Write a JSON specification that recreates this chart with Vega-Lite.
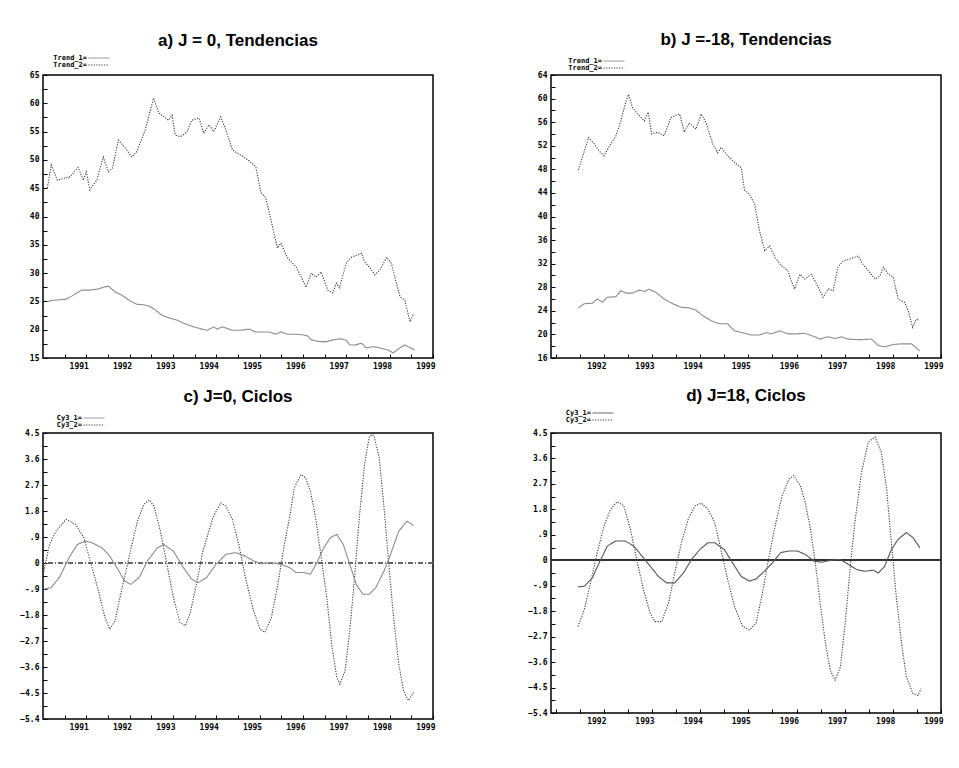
{
"$schema": "https://vega.github.io/schema/vega-lite/v6.json",
"background": "white",
"padding": {"left": 18, "top": 30, "right": 5, "bottom": 5},
"config": {
  "view": {"stroke": "#000", "strokeWidth": 1.5},
  "axis": {"domain": false, "grid": false, "title": null, "tickColor": "#000", "tickWidth": 1, "tickSize": -4, "labelFont": "DejaVu Sans Mono", "labelFontWeight": "bold", "labelFontSize": 8, "labelColor": "#000", "labelPadding": 8, "labelFlush": false, "labelOverlap": false, "labelBound": false},
  "axisX": {"labelAlign": "right", "labelOffset": 2},
  "title": {"font": "Liberation Sans", "fontSize": 17, "fontWeight": "bold", "color": "#000", "anchor": "middle"},
  "legend": {"labelFont": "DejaVu Sans Mono", "labelFontWeight": "bold", "labelFontSize": 7, "labelColor": "#000", "symbolType": "M-1,0H5", "symbolSize": 49, "symbolStrokeWidth": 1, "labelAlign": "right", "labelOffset": -9, "rowPadding": -1, "padding": 0}
},
"resolve": {"scale": {"color": "independent", "strokeDash": "independent"}, "legend": {"color": "independent", "strokeDash": "independent"}},
"datasets": {
"a": [
{"s":"Trend_2","t":1990.1,"v":45.0},{"s":"Trend_2","t":1990.19,"v":49.1},{"s":"Trend_2","t":1990.33,"v":46.4},{"s":"Trend_2","t":1990.5,"v":46.8},{"s":"Trend_2","t":1990.62,"v":47.0},{"s":"Trend_2","t":1990.81,"v":48.7},{"s":"Trend_2","t":1990.93,"v":46.4},{"s":"Trend_2","t":1991.0,"v":47.9},{"s":"Trend_2","t":1991.08,"v":44.7},{"s":"Trend_2","t":1991.24,"v":46.4},{"s":"Trend_2","t":1991.39,"v":50.5},{"s":"Trend_2","t":1991.51,"v":47.9},{"s":"Trend_2","t":1991.6,"v":48.5},{"s":"Trend_2","t":1991.74,"v":53.5},{"s":"Trend_2","t":1991.9,"v":52.1},{"s":"Trend_2","t":1992.05,"v":50.5},{"s":"Trend_2","t":1992.16,"v":51.4},{"s":"Trend_2","t":1992.36,"v":55.3},{"s":"Trend_2","t":1992.55,"v":60.9},{"s":"Trend_2","t":1992.67,"v":58.3},{"s":"Trend_2","t":1992.9,"v":57.0},{"s":"Trend_2","t":1992.98,"v":57.9},{"s":"Trend_2","t":1993.05,"v":54.4},{"s":"Trend_2","t":1993.17,"v":54.1},{"s":"Trend_2","t":1993.32,"v":54.9},{"s":"Trend_2","t":1993.43,"v":57.0},{"s":"Trend_2","t":1993.6,"v":57.4},{"s":"Trend_2","t":1993.71,"v":54.7},{"s":"Trend_2","t":1993.83,"v":56.2},{"s":"Trend_2","t":1993.94,"v":55.0},{"s":"Trend_2","t":1994.1,"v":57.6},{"s":"Trend_2","t":1994.22,"v":55.3},{"s":"Trend_2","t":1994.37,"v":51.8},{"s":"Trend_2","t":1994.48,"v":51.2},{"s":"Trend_2","t":1994.64,"v":50.5},{"s":"Trend_2","t":1994.83,"v":49.4},{"s":"Trend_2","t":1994.91,"v":48.8},{"s":"Trend_2","t":1995.03,"v":44.2},{"s":"Trend_2","t":1995.14,"v":43.3},{"s":"Trend_2","t":1995.26,"v":39.4},{"s":"Trend_2","t":1995.41,"v":34.4},{"s":"Trend_2","t":1995.49,"v":35.3},{"s":"Trend_2","t":1995.64,"v":32.7},{"s":"Trend_2","t":1995.84,"v":31.1},{"s":"Trend_2","t":1995.96,"v":29.3},{"s":"Trend_2","t":1996.07,"v":27.5},{"s":"Trend_2","t":1996.19,"v":30.0},{"s":"Trend_2","t":1996.3,"v":29.3},{"s":"Trend_2","t":1996.42,"v":30.2},{"s":"Trend_2","t":1996.57,"v":27.0},{"s":"Trend_2","t":1996.69,"v":26.5},{"s":"Trend_2","t":1996.77,"v":28.2},{"s":"Trend_2","t":1996.84,"v":27.4},{"s":"Trend_2","t":1997.0,"v":31.8},{"s":"Trend_2","t":1997.12,"v":32.8},{"s":"Trend_2","t":1997.35,"v":33.5},{"s":"Trend_2","t":1997.42,"v":32.0},{"s":"Trend_2","t":1997.54,"v":31.0},{"s":"Trend_2","t":1997.66,"v":29.7},{"s":"Trend_2","t":1997.77,"v":30.5},{"s":"Trend_2","t":1997.93,"v":32.8},{"s":"Trend_2","t":1998.04,"v":31.7},{"s":"Trend_2","t":1998.12,"v":29.3},{"s":"Trend_2","t":1998.24,"v":25.8},{"s":"Trend_2","t":1998.35,"v":25.2},{"s":"Trend_2","t":1998.47,"v":21.4},{"s":"Trend_2","t":1998.54,"v":22.6},{"s":"Trend_2","t":1998.58,"v":22.6},
{"s":"Trend_1","t":1990.1,"v":24.9},{"s":"Trend_1","t":1990.16,"v":25.1},{"s":"Trend_1","t":1990.23,"v":25.2},{"s":"Trend_1","t":1990.54,"v":25.4},{"s":"Trend_1","t":1990.7,"v":26.1},{"s":"Trend_1","t":1990.89,"v":27.0},{"s":"Trend_1","t":1991.08,"v":27.0},{"s":"Trend_1","t":1991.28,"v":27.2},{"s":"Trend_1","t":1991.39,"v":27.5},{"s":"Trend_1","t":1991.51,"v":27.7},{"s":"Trend_1","t":1991.66,"v":26.7},{"s":"Trend_1","t":1991.82,"v":26.1},{"s":"Trend_1","t":1992.01,"v":25.1},{"s":"Trend_1","t":1992.16,"v":24.5},{"s":"Trend_1","t":1992.32,"v":24.4},{"s":"Trend_1","t":1992.47,"v":24.1},{"s":"Trend_1","t":1992.59,"v":23.5},{"s":"Trend_1","t":1992.74,"v":22.6},{"s":"Trend_1","t":1992.9,"v":22.1},{"s":"Trend_1","t":1993.09,"v":21.7},{"s":"Trend_1","t":1993.29,"v":21.0},{"s":"Trend_1","t":1993.48,"v":20.5},{"s":"Trend_1","t":1993.67,"v":20.1},{"s":"Trend_1","t":1993.79,"v":19.9},{"s":"Trend_1","t":1993.94,"v":20.5},{"s":"Trend_1","t":1994.02,"v":20.1},{"s":"Trend_1","t":1994.14,"v":20.5},{"s":"Trend_1","t":1994.37,"v":19.9},{"s":"Trend_1","t":1994.56,"v":19.9},{"s":"Trend_1","t":1994.76,"v":20.1},{"s":"Trend_1","t":1994.91,"v":19.6},{"s":"Trend_1","t":1995.04,"v":19.6},{"s":"Trend_1","t":1995.22,"v":19.6},{"s":"Trend_1","t":1995.37,"v":19.2},{"s":"Trend_1","t":1995.49,"v":19.6},{"s":"Trend_1","t":1995.64,"v":19.2},{"s":"Trend_1","t":1995.84,"v":19.2},{"s":"Trend_1","t":1995.99,"v":19.1},{"s":"Trend_1","t":1996.11,"v":18.9},{"s":"Trend_1","t":1996.19,"v":18.2},{"s":"Trend_1","t":1996.38,"v":17.9},{"s":"Trend_1","t":1996.54,"v":17.9},{"s":"Trend_1","t":1996.69,"v":18.2},{"s":"Trend_1","t":1996.88,"v":18.4},{"s":"Trend_1","t":1997.0,"v":18.1},{"s":"Trend_1","t":1997.08,"v":17.3},{"s":"Trend_1","t":1997.2,"v":17.3},{"s":"Trend_1","t":1997.35,"v":17.6},{"s":"Trend_1","t":1997.46,"v":16.8},{"s":"Trend_1","t":1997.62,"v":17.0},{"s":"Trend_1","t":1997.77,"v":16.8},{"s":"Trend_1","t":1997.97,"v":16.4},{"s":"Trend_1","t":1998.08,"v":15.9},{"s":"Trend_1","t":1998.24,"v":16.8},{"s":"Trend_1","t":1998.35,"v":17.3},{"s":"Trend_1","t":1998.47,"v":16.8},{"s":"Trend_1","t":1998.58,"v":16.4}
],
"b": [
{"s":"Trend_2","t":1991.47,"v":47.9},{"s":"Trend_2","t":1991.55,"v":50.0},{"s":"Trend_2","t":1991.68,"v":53.4},{"s":"Trend_2","t":1991.8,"v":52.3},{"s":"Trend_2","t":1991.9,"v":51.1},{"s":"Trend_2","t":1992.0,"v":50.3},{"s":"Trend_2","t":1992.14,"v":52.3},{"s":"Trend_2","t":1992.25,"v":53.7},{"s":"Trend_2","t":1992.35,"v":56.2},{"s":"Trend_2","t":1992.46,"v":59.6},{"s":"Trend_2","t":1992.51,"v":60.7},{"s":"Trend_2","t":1992.59,"v":58.5},{"s":"Trend_2","t":1992.7,"v":57.4},{"s":"Trend_2","t":1992.84,"v":56.2},{"s":"Trend_2","t":1992.92,"v":57.7},{"s":"Trend_2","t":1992.99,"v":54.0},{"s":"Trend_2","t":1993.11,"v":54.3},{"s":"Trend_2","t":1993.25,"v":53.7},{"s":"Trend_2","t":1993.39,"v":56.8},{"s":"Trend_2","t":1993.57,"v":57.4},{"s":"Trend_2","t":1993.67,"v":54.3},{"s":"Trend_2","t":1993.77,"v":55.9},{"s":"Trend_2","t":1993.91,"v":54.8},{"s":"Trend_2","t":1994.02,"v":57.4},{"s":"Trend_2","t":1994.12,"v":55.9},{"s":"Trend_2","t":1994.26,"v":52.3},{"s":"Trend_2","t":1994.36,"v":50.8},{"s":"Trend_2","t":1994.43,"v":51.7},{"s":"Trend_2","t":1994.57,"v":50.3},{"s":"Trend_2","t":1994.75,"v":48.9},{"s":"Trend_2","t":1994.85,"v":48.3},{"s":"Trend_2","t":1994.92,"v":44.4},{"s":"Trend_2","t":1995.02,"v":43.8},{"s":"Trend_2","t":1995.13,"v":42.1},{"s":"Trend_2","t":1995.23,"v":37.6},{"s":"Trend_2","t":1995.34,"v":34.2},{"s":"Trend_2","t":1995.44,"v":35.0},{"s":"Trend_2","t":1995.55,"v":33.1},{"s":"Trend_2","t":1995.68,"v":31.7},{"s":"Trend_2","t":1995.82,"v":30.8},{"s":"Trend_2","t":1995.89,"v":29.1},{"s":"Trend_2","t":1995.96,"v":27.7},{"s":"Trend_2","t":1996.07,"v":30.2},{"s":"Trend_2","t":1996.17,"v":29.4},{"s":"Trend_2","t":1996.31,"v":30.2},{"s":"Trend_2","t":1996.45,"v":28.0},{"s":"Trend_2","t":1996.55,"v":26.3},{"s":"Trend_2","t":1996.66,"v":27.7},{"s":"Trend_2","t":1996.76,"v":27.4},{"s":"Trend_2","t":1996.86,"v":31.4},{"s":"Trend_2","t":1996.97,"v":32.5},{"s":"Trend_2","t":1997.11,"v":32.8},{"s":"Trend_2","t":1997.28,"v":33.3},{"s":"Trend_2","t":1997.38,"v":31.9},{"s":"Trend_2","t":1997.49,"v":30.8},{"s":"Trend_2","t":1997.63,"v":29.4},{"s":"Trend_2","t":1997.73,"v":29.9},{"s":"Trend_2","t":1997.8,"v":31.4},{"s":"Trend_2","t":1997.91,"v":30.2},{"s":"Trend_2","t":1998.01,"v":29.7},{"s":"Trend_2","t":1998.11,"v":26.0},{"s":"Trend_2","t":1998.25,"v":25.4},{"s":"Trend_2","t":1998.32,"v":24.0},{"s":"Trend_2","t":1998.41,"v":21.2},{"s":"Trend_2","t":1998.49,"v":22.6},{"s":"Trend_2","t":1998.55,"v":22.4},
{"s":"Trend_1","t":1991.47,"v":24.5},{"s":"Trend_1","t":1991.59,"v":25.2},{"s":"Trend_1","t":1991.76,"v":25.3},{"s":"Trend_1","t":1991.86,"v":26.0},{"s":"Trend_1","t":1991.97,"v":25.5},{"s":"Trend_1","t":1992.07,"v":26.3},{"s":"Trend_1","t":1992.25,"v":26.4},{"s":"Trend_1","t":1992.35,"v":27.4},{"s":"Trend_1","t":1992.46,"v":27.0},{"s":"Trend_1","t":1992.59,"v":27.0},{"s":"Trend_1","t":1992.73,"v":27.5},{"s":"Trend_1","t":1992.85,"v":27.3},{"s":"Trend_1","t":1992.94,"v":27.7},{"s":"Trend_1","t":1993.08,"v":27.1},{"s":"Trend_1","t":1993.25,"v":26.0},{"s":"Trend_1","t":1993.43,"v":25.2},{"s":"Trend_1","t":1993.6,"v":24.6},{"s":"Trend_1","t":1993.77,"v":24.5},{"s":"Trend_1","t":1993.91,"v":24.1},{"s":"Trend_1","t":1994.05,"v":23.2},{"s":"Trend_1","t":1994.23,"v":22.3},{"s":"Trend_1","t":1994.4,"v":21.8},{"s":"Trend_1","t":1994.57,"v":21.8},{"s":"Trend_1","t":1994.71,"v":20.6},{"s":"Trend_1","t":1994.88,"v":20.3},{"s":"Trend_1","t":1995.06,"v":19.9},{"s":"Trend_1","t":1995.23,"v":19.9},{"s":"Trend_1","t":1995.37,"v":20.3},{"s":"Trend_1","t":1995.48,"v":20.1},{"s":"Trend_1","t":1995.65,"v":20.6},{"s":"Trend_1","t":1995.82,"v":20.1},{"s":"Trend_1","t":1996.0,"v":20.1},{"s":"Trend_1","t":1996.17,"v":20.2},{"s":"Trend_1","t":1996.31,"v":19.8},{"s":"Trend_1","t":1996.41,"v":19.5},{"s":"Trend_1","t":1996.48,"v":19.2},{"s":"Trend_1","t":1996.66,"v":19.6},{"s":"Trend_1","t":1996.8,"v":19.3},{"s":"Trend_1","t":1996.93,"v":19.6},{"s":"Trend_1","t":1997.07,"v":19.2},{"s":"Trend_1","t":1997.28,"v":19.1},{"s":"Trend_1","t":1997.56,"v":19.2},{"s":"Trend_1","t":1997.7,"v":18.1},{"s":"Trend_1","t":1997.84,"v":17.9},{"s":"Trend_1","t":1998.01,"v":18.3},{"s":"Trend_1","t":1998.18,"v":18.4},{"s":"Trend_1","t":1998.39,"v":18.4},{"s":"Trend_1","t":1998.56,"v":17.2}
],
"c": [
{"s":"Cy3_2","t":1990.02,"v":-0.28},{"s":"Cy3_2","t":1990.15,"v":0.64},{"s":"Cy3_2","t":1990.3,"v":1.1},{"s":"Cy3_2","t":1990.53,"v":1.51},{"s":"Cy3_2","t":1990.75,"v":1.34},{"s":"Cy3_2","t":1990.94,"v":0.88},{"s":"Cy3_2","t":1991.09,"v":0.07},{"s":"Cy3_2","t":1991.28,"v":-0.97},{"s":"Cy3_2","t":1991.43,"v":-1.89},{"s":"Cy3_2","t":1991.54,"v":-2.29},{"s":"Cy3_2","t":1991.66,"v":-2.0},{"s":"Cy3_2","t":1991.81,"v":-0.97},{"s":"Cy3_2","t":1992.0,"v":0.3},{"s":"Cy3_2","t":1992.18,"v":1.45},{"s":"Cy3_2","t":1992.33,"v":2.03},{"s":"Cy3_2","t":1992.45,"v":2.18},{"s":"Cy3_2","t":1992.56,"v":1.97},{"s":"Cy3_2","t":1992.71,"v":1.1},{"s":"Cy3_2","t":1992.86,"v":-0.05},{"s":"Cy3_2","t":1993.01,"v":-1.2},{"s":"Cy3_2","t":1993.16,"v":-2.06},{"s":"Cy3_2","t":1993.28,"v":-2.17},{"s":"Cy3_2","t":1993.39,"v":-1.77},{"s":"Cy3_2","t":1993.54,"v":-0.74},{"s":"Cy3_2","t":1993.69,"v":0.41},{"s":"Cy3_2","t":1993.92,"v":1.57},{"s":"Cy3_2","t":1994.1,"v":2.08},{"s":"Cy3_2","t":1994.22,"v":1.97},{"s":"Cy3_2","t":1994.37,"v":1.51},{"s":"Cy3_2","t":1994.52,"v":0.64},{"s":"Cy3_2","t":1994.67,"v":-0.51},{"s":"Cy3_2","t":1994.86,"v":-1.66},{"s":"Cy3_2","t":1995.01,"v":-2.29},{"s":"Cy3_2","t":1995.12,"v":-2.4},{"s":"Cy3_2","t":1995.27,"v":-1.89},{"s":"Cy3_2","t":1995.42,"v":-0.74},{"s":"Cy3_2","t":1995.57,"v":0.64},{"s":"Cy3_2","t":1995.69,"v":1.57},{"s":"Cy3_2","t":1995.8,"v":2.6},{"s":"Cy3_2","t":1995.95,"v":3.06},{"s":"Cy3_2","t":1996.06,"v":2.95},{"s":"Cy3_2","t":1996.17,"v":2.49},{"s":"Cy3_2","t":1996.29,"v":1.57},{"s":"Cy3_2","t":1996.4,"v":0.41},{"s":"Cy3_2","t":1996.55,"v":-1.2},{"s":"Cy3_2","t":1996.66,"v":-2.81},{"s":"Cy3_2","t":1996.78,"v":-3.96},{"s":"Cy3_2","t":1996.85,"v":-4.19},{"s":"Cy3_2","t":1996.97,"v":-3.73},{"s":"Cy3_2","t":1997.08,"v":-2.35},{"s":"Cy3_2","t":1997.19,"v":-0.51},{"s":"Cy3_2","t":1997.3,"v":1.57},{"s":"Cy3_2","t":1997.42,"v":3.41},{"s":"Cy3_2","t":1997.53,"v":4.38},{"s":"Cy3_2","t":1997.6,"v":4.45},{"s":"Cy3_2","t":1997.64,"v":4.38},{"s":"Cy3_2","t":1997.76,"v":3.64},{"s":"Cy3_2","t":1997.87,"v":1.91},{"s":"Cy3_2","t":1997.98,"v":-0.05},{"s":"Cy3_2","t":1998.09,"v":-1.89},{"s":"Cy3_2","t":1998.21,"v":-3.5},{"s":"Cy3_2","t":1998.32,"v":-4.42},{"s":"Cy3_2","t":1998.43,"v":-4.76},{"s":"Cy3_2","t":1998.55,"v":-4.48},
{"s":"Cy3_1","t":1990.02,"v":-0.91},{"s":"Cy3_1","t":1990.19,"v":-0.85},{"s":"Cy3_1","t":1990.38,"v":-0.5},{"s":"Cy3_1","t":1990.6,"v":0.18},{"s":"Cy3_1","t":1990.79,"v":0.64},{"s":"Cy3_1","t":1990.98,"v":0.76},{"s":"Cy3_1","t":1991.13,"v":0.7},{"s":"Cy3_1","t":1991.36,"v":0.53},{"s":"Cy3_1","t":1991.54,"v":0.24},{"s":"Cy3_1","t":1991.73,"v":-0.22},{"s":"Cy3_1","t":1991.88,"v":-0.62},{"s":"Cy3_1","t":1992.03,"v":-0.74},{"s":"Cy3_1","t":1992.22,"v":-0.5},{"s":"Cy3_1","t":1992.41,"v":0.07},{"s":"Cy3_1","t":1992.64,"v":0.53},{"s":"Cy3_1","t":1992.79,"v":0.64},{"s":"Cy3_1","t":1993.01,"v":0.41},{"s":"Cy3_1","t":1993.24,"v":-0.16},{"s":"Cy3_1","t":1993.43,"v":-0.56},{"s":"Cy3_1","t":1993.58,"v":-0.68},{"s":"Cy3_1","t":1993.77,"v":-0.51},{"s":"Cy3_1","t":1993.99,"v":-0.05},{"s":"Cy3_1","t":1994.22,"v":0.3},{"s":"Cy3_1","t":1994.44,"v":0.36},{"s":"Cy3_1","t":1994.67,"v":0.24},{"s":"Cy3_1","t":1994.86,"v":0.07},{"s":"Cy3_1","t":1995.05,"v":-0.02},{"s":"Cy3_1","t":1995.27,"v":0.01},{"s":"Cy3_1","t":1995.5,"v":-0.05},{"s":"Cy3_1","t":1995.69,"v":-0.16},{"s":"Cy3_1","t":1995.84,"v":-0.33},{"s":"Cy3_1","t":1996.02,"v":-0.33},{"s":"Cy3_1","t":1996.17,"v":-0.39},{"s":"Cy3_1","t":1996.32,"v":0.01},{"s":"Cy3_1","t":1996.48,"v":0.53},{"s":"Cy3_1","t":1996.63,"v":0.88},{"s":"Cy3_1","t":1996.78,"v":0.99},{"s":"Cy3_1","t":1996.93,"v":0.64},{"s":"Cy3_1","t":1997.08,"v":-0.05},{"s":"Cy3_1","t":1997.23,"v":-0.74},{"s":"Cy3_1","t":1997.38,"v":-1.08},{"s":"Cy3_1","t":1997.53,"v":-1.08},{"s":"Cy3_1","t":1997.68,"v":-0.85},{"s":"Cy3_1","t":1997.87,"v":-0.28},{"s":"Cy3_1","t":1998.02,"v":0.3},{"s":"Cy3_1","t":1998.21,"v":1.1},{"s":"Cy3_1","t":1998.4,"v":1.45},{"s":"Cy3_1","t":1998.51,"v":1.34},{"s":"Cy3_1","t":1998.55,"v":1.28}
],
"d": [
{"s":"Cy3_2","t":1991.46,"v":-2.34},{"s":"Cy3_2","t":1991.59,"v":-1.75},{"s":"Cy3_2","t":1991.72,"v":-0.8},{"s":"Cy3_2","t":1991.86,"v":0.27},{"s":"Cy3_2","t":1992.0,"v":1.21},{"s":"Cy3_2","t":1992.14,"v":1.81},{"s":"Cy3_2","t":1992.27,"v":2.07},{"s":"Cy3_2","t":1992.41,"v":1.93},{"s":"Cy3_2","t":1992.55,"v":1.1},{"s":"Cy3_2","t":1992.68,"v":0.03},{"s":"Cy3_2","t":1992.82,"v":-1.04},{"s":"Cy3_2","t":1992.96,"v":-1.87},{"s":"Cy3_2","t":1993.06,"v":-2.17},{"s":"Cy3_2","t":1993.2,"v":-2.17},{"s":"Cy3_2","t":1993.34,"v":-1.51},{"s":"Cy3_2","t":1993.47,"v":-0.45},{"s":"Cy3_2","t":1993.61,"v":0.62},{"s":"Cy3_2","t":1993.75,"v":1.45},{"s":"Cy3_2","t":1993.89,"v":1.93},{"s":"Cy3_2","t":1994.02,"v":2.02},{"s":"Cy3_2","t":1994.16,"v":1.81},{"s":"Cy3_2","t":1994.3,"v":1.33},{"s":"Cy3_2","t":1994.43,"v":0.38},{"s":"Cy3_2","t":1994.57,"v":-0.68},{"s":"Cy3_2","t":1994.71,"v":-1.63},{"s":"Cy3_2","t":1994.88,"v":-2.34},{"s":"Cy3_2","t":1995.02,"v":-2.46},{"s":"Cy3_2","t":1995.16,"v":-2.23},{"s":"Cy3_2","t":1995.29,"v":-1.16},{"s":"Cy3_2","t":1995.43,"v":0.15},{"s":"Cy3_2","t":1995.57,"v":1.33},{"s":"Cy3_2","t":1995.7,"v":2.28},{"s":"Cy3_2","t":1995.84,"v":2.87},{"s":"Cy3_2","t":1995.94,"v":2.99},{"s":"Cy3_2","t":1996.08,"v":2.64},{"s":"Cy3_2","t":1996.18,"v":2.04},{"s":"Cy3_2","t":1996.29,"v":1.1},{"s":"Cy3_2","t":1996.39,"v":-0.09},{"s":"Cy3_2","t":1996.49,"v":-1.51},{"s":"Cy3_2","t":1996.6,"v":-2.94},{"s":"Cy3_2","t":1996.7,"v":-3.89},{"s":"Cy3_2","t":1996.8,"v":-4.24},{"s":"Cy3_2","t":1996.91,"v":-3.77},{"s":"Cy3_2","t":1997.01,"v":-2.23},{"s":"Cy3_2","t":1997.11,"v":-0.33},{"s":"Cy3_2","t":1997.21,"v":1.33},{"s":"Cy3_2","t":1997.35,"v":3.11},{"s":"Cy3_2","t":1997.49,"v":4.18},{"s":"Cy3_2","t":1997.63,"v":4.36},{"s":"Cy3_2","t":1997.76,"v":3.82},{"s":"Cy3_2","t":1997.87,"v":2.52},{"s":"Cy3_2","t":1997.97,"v":0.62},{"s":"Cy3_2","t":1998.07,"v":-1.28},{"s":"Cy3_2","t":1998.18,"v":-2.94},{"s":"Cy3_2","t":1998.28,"v":-4.12},{"s":"Cy3_2","t":1998.42,"v":-4.72},{"s":"Cy3_2","t":1998.52,"v":-4.78},{"s":"Cy3_2","t":1998.59,"v":-4.54},
{"s":"Cy3_1","t":1991.46,"v":-0.94},{"s":"Cy3_1","t":1991.59,"v":-0.92},{"s":"Cy3_1","t":1991.76,"v":-0.62},{"s":"Cy3_1","t":1991.9,"v":-0.09},{"s":"Cy3_1","t":1992.07,"v":0.5},{"s":"Cy3_1","t":1992.24,"v":0.68},{"s":"Cy3_1","t":1992.44,"v":0.68},{"s":"Cy3_1","t":1992.62,"v":0.5},{"s":"Cy3_1","t":1992.79,"v":0.15},{"s":"Cy3_1","t":1992.96,"v":-0.21},{"s":"Cy3_1","t":1993.13,"v":-0.57},{"s":"Cy3_1","t":1993.3,"v":-0.8},{"s":"Cy3_1","t":1993.47,"v":-0.8},{"s":"Cy3_1","t":1993.65,"v":-0.45},{"s":"Cy3_1","t":1993.82,"v":0.03},{"s":"Cy3_1","t":1993.99,"v":0.38},{"s":"Cy3_1","t":1994.16,"v":0.62},{"s":"Cy3_1","t":1994.3,"v":0.62},{"s":"Cy3_1","t":1994.5,"v":0.38},{"s":"Cy3_1","t":1994.67,"v":-0.09},{"s":"Cy3_1","t":1994.85,"v":-0.57},{"s":"Cy3_1","t":1995.02,"v":-0.74},{"s":"Cy3_1","t":1995.16,"v":-0.66},{"s":"Cy3_1","t":1995.33,"v":-0.39},{"s":"Cy3_1","t":1995.5,"v":-0.09},{"s":"Cy3_1","t":1995.67,"v":0.27},{"s":"Cy3_1","t":1995.84,"v":0.33},{"s":"Cy3_1","t":1996.01,"v":0.33},{"s":"Cy3_1","t":1996.18,"v":0.21},{"s":"Cy3_1","t":1996.36,"v":-0.03},{"s":"Cy3_1","t":1996.53,"v":-0.07},{"s":"Cy3_1","t":1996.7,"v":0.0},{"s":"Cy3_1","t":1996.91,"v":0.03},{"s":"Cy3_1","t":1997.08,"v":-0.15},{"s":"Cy3_1","t":1997.25,"v":-0.33},{"s":"Cy3_1","t":1997.42,"v":-0.39},{"s":"Cy3_1","t":1997.59,"v":-0.35},{"s":"Cy3_1","t":1997.7,"v":-0.45},{"s":"Cy3_1","t":1997.83,"v":-0.21},{"s":"Cy3_1","t":1997.97,"v":0.38},{"s":"Cy3_1","t":1998.11,"v":0.74},{"s":"Cy3_1","t":1998.28,"v":0.98},{"s":"Cy3_1","t":1998.42,"v":0.8},{"s":"Cy3_1","t":1998.56,"v":0.44}
]
},
"columns": 2,
"spacing": {"row": 75, "column": 118},
"bounds": "flush",
"concat": [
{
 "title": {"text": "a) J = 0, Tendencias", "offset": 4},
 "width": 390, "height": 283,
 "data": {"name": "a"},
 "mark": {"type": "line", "strokeWidth": 1.1},
 "encoding": {
  "x": {"field": "t", "type": "quantitative", "scale": {"domain": [1990, 1999], "nice": false, "zero": false},
        "axis": {"labelOverlap": false, "values": [1990.5,1991,1991.5,1992,1992.5,1993,1993.5,1994,1994.5,1995,1995.5,1996,1996.5,1997,1997.5,1998,1998.5,1999], "labelExpr": "datum.value % 1 == 0 ? format(datum.value, 'd') : ''"}},
  "y": {"field": "v", "type": "quantitative", "scale": {"domain": [15, 65], "nice": false, "zero": false},
        "axis": {"labelOverlap": false, "values": [15,17.5,20,22.5,25,27.5,30,32.5,35,37.5,40,42.5,45,47.5,50,52.5,55,57.5,60,62.5,65], "labelExpr": "datum.value % 5 == 0 ? format(datum.value, 'd') : ''"}},
  "color": {"field": "s", "type": "nominal", "scale": {"domain": ["Trend_1", "Trend_2"], "range": ["#8c8c8c", "#3a3a3a"]}, "legend": {"title": null, "orient": "none", "legendX": 45, "legendY": -21, "labelExpr": "datum.label + '='"}},
  "strokeDash": {"field": "s", "type": "nominal", "scale": {"domain": ["Trend_1", "Trend_2"], "range": [[1, 0], [1.2, 1.4]]}, "legend": {"title": null, "orient": "none", "legendX": 45, "legendY": -21, "labelExpr": "datum.label + '='"}}
 }
},
{
 "title": {"text": "b) J =-18, Tendencias", "offset": 8},
 "width": 390, "height": 283,
 "data": {"name": "b"},
 "mark": {"type": "line", "strokeWidth": 1.1},
 "encoding": {
  "x": {"field": "t", "type": "quantitative", "scale": {"domain": [1990.9, 1999], "nice": false, "zero": false},
        "axis": {"labelOverlap": false, "values": [1991,1991.5,1992,1992.5,1993,1993.5,1994,1994.5,1995,1995.5,1996,1996.5,1997,1997.5,1998,1998.5,1999], "labelExpr": "datum.value % 1 == 0 && datum.value >= 1992 ? format(datum.value, 'd') : ''"}},
  "y": {"field": "v", "type": "quantitative", "scale": {"domain": [16, 64], "nice": false, "zero": false},
        "axis": {"labelOverlap": false, "values": [16,18,20,22,24,26,28,30,32,34,36,38,40,42,44,46,48,50,52,54,56,58,60,62,64], "labelExpr": "datum.value % 4 == 0 ? format(datum.value, 'd') : ''"}},
  "color": {"field": "s", "type": "nominal", "scale": {"domain": ["Trend_1", "Trend_2"], "range": ["#8c8c8c", "#3a3a3a"]}, "legend": {"title": null, "orient": "none", "legendX": 52, "legendY": -18, "labelExpr": "datum.label + '='"}},
  "strokeDash": {"field": "s", "type": "nominal", "scale": {"domain": ["Trend_1", "Trend_2"], "range": [[1, 0], [1.2, 1.4]]}, "legend": {"title": null, "orient": "none", "legendX": 52, "legendY": -18, "labelExpr": "datum.label + '='"}}
 }
},
{
 "title": {"text": "c) J=0, Ciclos", "offset": 8},
 "width": 390, "height": 286,
 "data": {"name": "c"},
 "encoding": {
  "y": {"type": "quantitative", "scale": {"domain": [-5.4, 4.5], "nice": false, "zero": false},
        "axis": {"labelOverlap": false, "values": [-5.4,-4.95,-4.5,-4.05,-3.6,-3.15,-2.7,-2.25,-1.8,-1.35,-0.9,-0.45,0,0.45,0.9,1.35,1.8,2.25,2.7,3.15,3.6,4.05,4.5], "labelExpr": "abs(datum.value/0.9 - round(datum.value/0.9)) < 0.01 ? (datum.value == 0 ? '0' : (abs(datum.value) < 1 ? (datum.value < 0 ? '-.9' : '.9') : format(datum.value, '.1f'))) : ''"}}
 },
 "layer": [
  {"mark": {"type": "rule", "color": "#666", "strokeWidth": 1, "strokeDash": [5, 2, 1, 2]}, "encoding": {"y": {"datum": 0}}},
  {"mark": {"type": "line", "strokeWidth": 1.1},
   "encoding": {
    "x": {"field": "t", "type": "quantitative", "scale": {"domain": [1990, 1999], "nice": false, "zero": false},
          "axis": {"labelOverlap": false, "values": [1990.5,1991,1991.5,1992,1992.5,1993,1993.5,1994,1994.5,1995,1995.5,1996,1996.5,1997,1997.5,1998,1998.5,1999], "labelExpr": "datum.value % 1 == 0 ? format(datum.value, 'd') : ''"}},
    "y": {"field": "v"},
    "color": {"field": "s", "type": "nominal", "scale": {"domain": ["Cy3_1", "Cy3_2"], "range": ["#8c8c8c", "#3a3a3a"]}, "legend": {"title": null, "orient": "none", "legendX": 40, "legendY": -19, "labelExpr": "datum.label + '='"}},
    "strokeDash": {"field": "s", "type": "nominal", "scale": {"domain": ["Cy3_1", "Cy3_2"], "range": [[1, 0], [1.2, 1.4]]}, "legend": {"title": null, "orient": "none", "legendX": 40, "legendY": -19, "labelExpr": "datum.label + '='"}}
   }}
 ]
},
{
 "title": {"text": "d) J=18, Ciclos", "offset": 4},
 "width": 390, "height": 280,
 "data": {"name": "d"},
 "encoding": {
  "y": {"type": "quantitative", "scale": {"domain": [-5.4, 4.5], "nice": false, "zero": false},
        "axis": {"labelOverlap": false, "values": [-5.4,-4.95,-4.5,-4.05,-3.6,-3.15,-2.7,-2.25,-1.8,-1.35,-0.9,-0.45,0,0.45,0.9,1.35,1.8,2.25,2.7,3.15,3.6,4.05,4.5], "labelExpr": "abs(datum.value/0.9 - round(datum.value/0.9)) < 0.01 ? (datum.value == 0 ? '0' : (abs(datum.value) < 1 ? (datum.value < 0 ? '-.9' : '.9') : format(datum.value, '.1f'))) : ''"}}
 },
 "layer": [
  {"mark": {"type": "rule", "color": "#333", "strokeWidth": 1}, "encoding": {"y": {"datum": 0}}},
  {"mark": {"type": "line", "strokeWidth": 1.1},
   "encoding": {
    "x": {"field": "t", "type": "quantitative", "scale": {"domain": [1990.9, 1999], "nice": false, "zero": false},
          "axis": {"labelOverlap": false, "values": [1991,1991.5,1992,1992.5,1993,1993.5,1994,1994.5,1995,1995.5,1996,1996.5,1997,1997.5,1998,1998.5,1999], "labelExpr": "datum.value % 1 == 0 && datum.value >= 1992 ? format(datum.value, 'd') : ''"}},
    "y": {"field": "v"},
    "color": {"field": "s", "type": "nominal", "scale": {"domain": ["Cy3_1", "Cy3_2"], "range": ["#555555", "#3a3a3a"]}, "legend": {"title": null, "orient": "none", "legendX": 41, "legendY": -24, "labelExpr": "datum.label + '='"}},
    "strokeDash": {"field": "s", "type": "nominal", "scale": {"domain": ["Cy3_1", "Cy3_2"], "range": [[1, 0], [1.2, 1.4]]}, "legend": {"title": null, "orient": "none", "legendX": 41, "legendY": -24, "labelExpr": "datum.label + '='"}}
   }}
 ]
}
]
}
